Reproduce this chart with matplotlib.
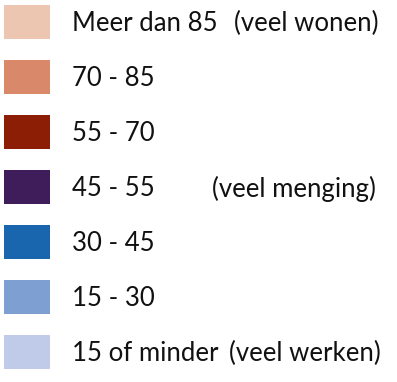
import matplotlib.pyplot as plt
from matplotlib.patches import Rectangle

# legenda: aandeel wonen (%)
labels = ['Meer dan 85', '70 - 85', '55 - 70', '45 - 55', '30 - 45', '15 - 30', '15 of minder']
notes = ['(veel wonen)', '', '', '(veel menging)', '', '', '(veel werken)']
colors = ['#EDC6B1', '#D9896A', '#8B1E04', '#3F1D5B', '#1966AE', '#7E9FD2', '#C0CBE9']

note_x = {0: 234, 3: 212, 6: 229}

fig = plt.figure(figsize=(3.97, 3.82), dpi=100)
ax = fig.add_axes([0, 0, 1, 1])
ax.set_xlim(0, 397)
ax.set_ylim(382, 0)
ax.axis('off')

top, step, h = 5, 55, 34
for i, (lab, note, c) in enumerate(zip(labels, notes, colors)):
    y = top + i * step
    ax.add_patch(Rectangle((4, y), 46, h, facecolor=c, edgecolor='none'))
    ax.text(72, y + h / 2 + 1.5, lab, fontsize=18.5, family='Lato', fontweight='normal',
            color='#111111', va='center', ha='left')
    if note:
        ax.text(note_x[i], y + h / 2 + 1.5, note, fontsize=18.5, family='Lato',
                fontweight='normal', color='#111111', va='center', ha='left')

fig.savefig('out.png', dpi=100)
